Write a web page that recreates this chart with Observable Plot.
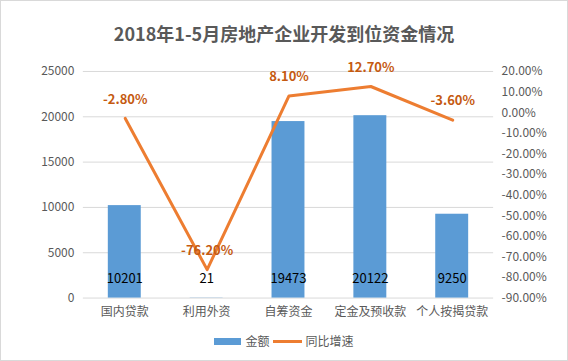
<!DOCTYPE html>
<html>
<head>
<meta charset="utf-8">
<script src="https://cdn.jsdelivr.net/npm/d3@7"></script>
<script src="https://cdn.jsdelivr.net/npm/@observablehq/plot@0.6"></script>
<style>
  html, body { margin: 0; padding: 0; background: #fff; }
  #wrap { position: relative; width: 568px; height: 361px; box-sizing: border-box; border: 1px solid #D9D9D9; background: #fff; overflow: hidden;
    font-family: "Noto Sans CJK SC", "Noto Sans", sans-serif; color: #595959; }
  #title { position: absolute; left: 0; width: 566px; top: 19px; text-align: center; font-size: 18px; font-weight: bold; line-height: 26px; }
  .layer { position: absolute; left: -1px; top: 54px; }
  #legend { position: absolute; top: 331px; left: 0; width: 566px; display: flex; justify-content: center; align-items: center; font-size: 12px; line-height: 18px; }
  .sw-bar { width: 27px; height: 7px; background: #5B9BD5; margin-right: 4px; }
  .sw-line { width: 29px; height: 3px; background: #ED7D31; margin: 0 4px 0 3px; }
</style>
</head>
<body>
<div id="wrap">
  <div id="title">2018年1-5月房地产企业开发到位资金情况</div>
  <div id="bars" class="layer"></div>
  <div id="line" class="layer"></div>
  <div id="legend"><div class="sw-bar"></div><span>金额</span><div class="sw-line"></div><span>同比增速</span></div>
</div>
<script>
const categories = ["国内贷款", "利用外资", "自筹资金", "定金及预收款", "个人按揭贷款"];
const amounts = [10201, 21, 19473, 20122, 9250];
const growth = [-2.8, -76.2, 8.1, 12.7, -3.6];
const leftTicks = [0, 5000, 10000, 15000, 20000, 25000];
const rightTicks = [20, 10, 0, -10, -20, -30, -40, -50, -60, -70, -80, -90];

const data = categories.map((c, i) => ({cat: c, amount: amounts[i], growth: growth[i]}));

const common = {
  width: 568, height: 273,
  marginTop: 16, marginBottom: 30, marginLeft: 83, marginRight: 74,
  style: {fontFamily: '"Noto Sans CJK SC", "Noto Sans", sans-serif', fontSize: "12px", color: "#595959", background: "transparent", overflow: "visible"}
};

const bars = Plot.plot({
  ...common,
  x: {domain: categories, paddingInner: 0.6, paddingOuter: 0.3, label: null},
  y: {domain: [0, 25000], label: null},
  marks: [
    Plot.gridY(leftTicks, {stroke: "#D9D9D9", strokeOpacity: 1}),
    Plot.barY(data, {x: "cat", y: "amount", fill: "#5B9BD5"}),
    Plot.axisY(leftTicks, {tickSize: 0, tickPadding: 9, label: null, tickFormat: d => String(d)}),
    Plot.axisX({tickSize: 0, tickPadding: 9, label: null}),
    Plot.text(data, {x: "cat", text: d => String(d.amount), frameAnchor: "bottom", dy: -15, fill: "#000", fontSize: 13})
  ]
});
document.getElementById("bars").appendChild(bars);

const line = Plot.plot({
  ...common,
  x: {type: "point", domain: categories, padding: 0.5, axis: null},
  y: {domain: [-90, 20], label: null},
  marks: [
    Plot.lineY(data, {x: "cat", y: "growth", stroke: "#ED7D31", strokeWidth: 3}),
    Plot.text(data, {x: "cat", y: "growth", text: d => d.growth.toFixed(2) + "%", dy: -19, fill: "#C55A11", fontWeight: "bold", fontSize: 13}),
    Plot.axisY(rightTicks, {anchor: "right", tickSize: 0, tickPadding: 8, label: null, tickFormat: d => d.toFixed(2) + "%"})
  ]
});
document.getElementById("line").appendChild(line);
</script>
</body>
</html>
